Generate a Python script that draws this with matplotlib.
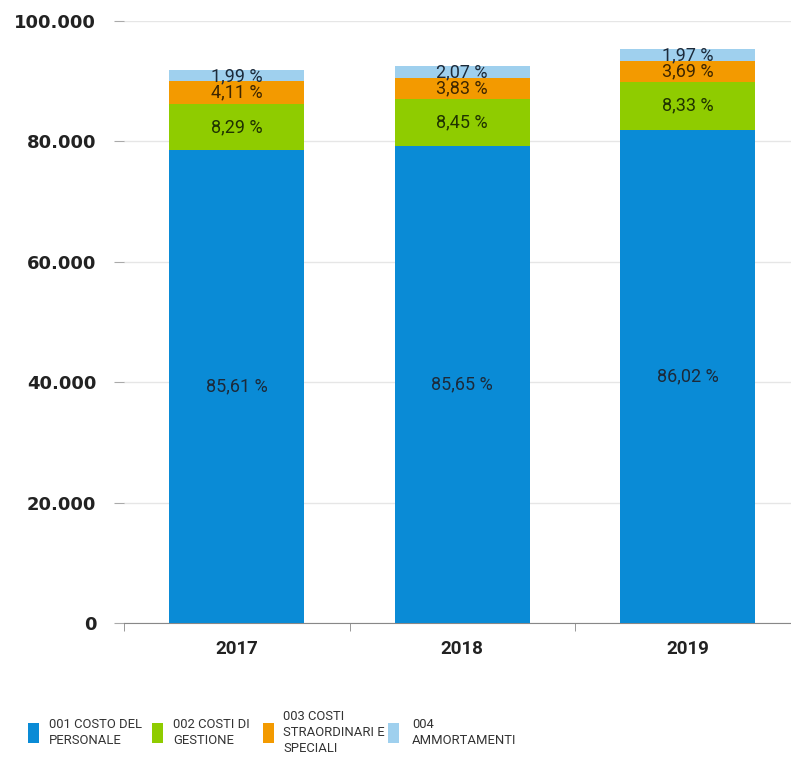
import matplotlib
matplotlib.use("Agg")
import matplotlib.pyplot as plt
import numpy as np
from matplotlib.patches import Rectangle
from matplotlib.ticker import FuncFormatter, FixedLocator

years = ["2017", "2018", "2019"]
personale = [78590, 79226, 81973]
gestione = [7610, 7816, 7937]
straordinari = [3773, 3543, 3515]
ammortamenti = [1827, 1915, 1875]

series_names = ["001 COSTO DEL\nPERSONALE", "002 COSTI DI\nGESTIONE",
                "003 COSTI\nSTRAORDINARI E\nSPECIALI", "004\nAMMORTAMENTI"]
colors = ["#0a8bd6", "#8fcc00", "#f39a00", "#9fd0ee"]
label_colors = ["#1c2a3a", "#1f3300", "#3d2600", "#1c2a3a"]

series = [personale, gestione, straordinari, ammortamenti]
totals = np.sum(np.array(series), axis=0)

narrow = ["Roboto", "DejaVu Sans"]

W, H = 791, 760
fig = plt.figure(figsize=(W / 100, H / 100), dpi=100)
ax = fig.add_axes([124 / W, 1 - 623 / H, 676.5 / W, 602 / H])

x = np.arange(len(years))
bottom = np.zeros(len(years))
for vals, col, lc in zip(series, colors, label_colors):
    vals = np.array(vals, dtype=float)
    ax.bar(x, vals, width=0.6, bottom=bottom, color=col, zorder=3)
    for i in range(len(years)):
        pct = vals[i] / totals[i] * 100
        txt = f"{pct:.2f}".replace(".", ",") + " %"
        ax.text(x[i], bottom[i] + vals[i] / 2, txt, ha="center", va="center",
                fontsize=13, color=lc, family=narrow, zorder=4)
    bottom += vals

ax.set_xlim(-0.5, 2.5)
ax.set_ylim(0, 100000)
ax.yaxis.set_major_locator(FixedLocator([0, 20000, 40000, 60000, 80000, 100000]))
ax.yaxis.set_major_formatter(FuncFormatter(lambda v, p: f"{int(v):,}".replace(",", ".")))
ax.grid(axis="y", color="#e6e6e6", linewidth=1, zorder=0)
for s in ["top", "right", "left"]:
    ax.spines[s].set_visible(False)
ax.spines["bottom"].set_color("#888888")
ax.tick_params(axis="y", length=7, color="#aaaaaa", pad=13)
for lab in ax.get_yticklabels():
    lab.set_fontweight("bold")
    lab.set_fontsize(13)
    lab.set_color("#222222")
    lab.set_family(["DejaVu Sans"])

ax.set_xticks(x)
ax.set_xticklabels(years, fontsize=13.5, fontweight="bold", family=narrow, color="#222222")
ax.tick_params(axis="x", length=0, pad=12)
ax.set_xticks([-0.5, 0.5, 1.5], minor=True)
ax.tick_params(axis="x", which="minor", length=6, color="#888888")

# legend (manual layout)
sq_x = [28, 152, 263, 388]
tx_x = [49, 173, 283, 412]
yc = 733
for sx, tx, col, name in zip(sq_x, tx_x, colors, series_names):
    fig.patches.append(Rectangle((sx / W, 1 - (yc + 10) / H), 11 / W, 20 / H,
                                 transform=fig.transFigure, facecolor=col,
                                 edgecolor="none"))
    fig.text(tx / W, 1 - yc / H, name, ha="left", va="center", fontsize=9.4,
             family=narrow, color="#333333", linespacing=1.3)

fig.savefig("out.png", dpi=100)
